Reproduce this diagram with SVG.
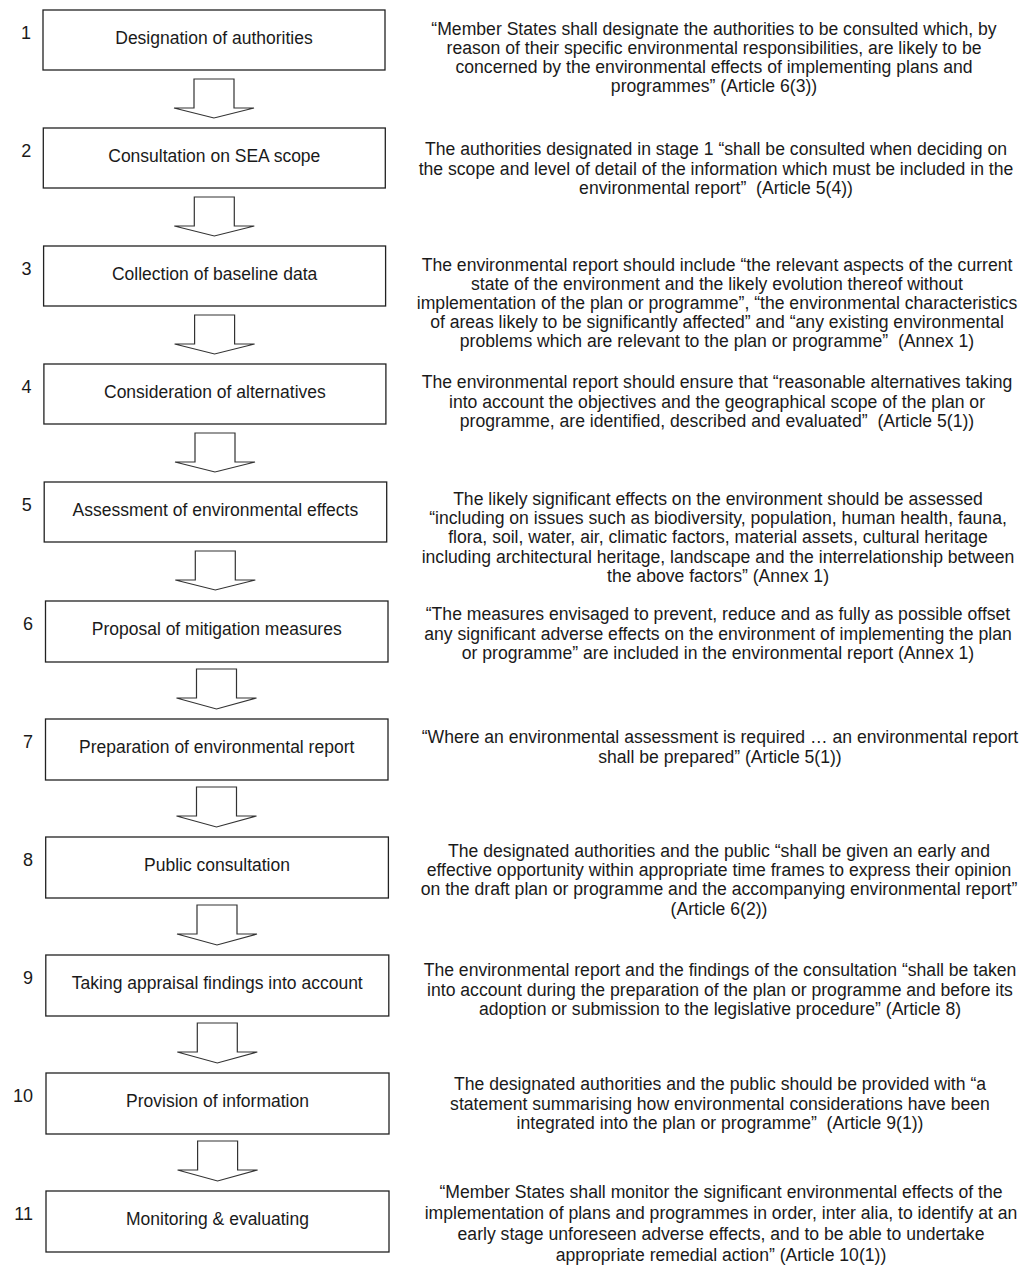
<svg xmlns="http://www.w3.org/2000/svg" width="1026" height="1276" viewBox="0 0 1026 1276">
<defs>
<style>
.box{fill:#fff;stroke:#222;stroke-width:1.3}
.arr{fill:#fff;stroke:#333;stroke-width:1.2;stroke-linejoin:miter}
.lbl{font-family:"Liberation Sans",Arial,sans-serif;font-size:17.5px;fill:#1a1a1a;text-anchor:middle}
.num{font-family:"Liberation Sans",Arial,sans-serif;font-size:18px;fill:#1a1a1a;text-anchor:end}
.desc{font-family:"Liberation Sans",Arial,sans-serif;font-size:17.6px;fill:#1a1a1a;text-anchor:middle;white-space:pre}
</style>
</defs>
<rect width="1026" height="1276" fill="#fff"/>
<g id="connectors">
<path class="arr" d="M194 79 V108 H174 L214 118 L254 108 H234 V79 Z"/>
<path class="arr" d="M194.3 197 V226 H174.3 L214.3 236 L254.3 226 H234.3 V197 Z"/>
<path class="arr" d="M194.6 315 V344 H174.6 L214.6 354 L254.6 344 H234.6 V315 Z"/>
<path class="arr" d="M195 433 V462 H175 L215 472 L255 462 H235 V433 Z"/>
<path class="arr" d="M195.3 551 V580 H175.3 L215.3 590 L255.3 580 H235.3 V551 Z"/>
<path class="arr" d="M196.5 669 V698 H176.5 L216.5 709 L256.5 698 H236.5 V669 Z"/>
<path class="arr" d="M196.5 787 V816 H176.5 L216.5 827 L256.5 816 H236.5 V787 Z"/>
<path class="arr" d="M197 905 V934 H177 L217 945 L257 934 H237 V905 Z"/>
<path class="arr" d="M197.3 1023 V1052 H177.3 L217.3 1063 L257.3 1052 H237.3 V1023 Z"/>
<path class="arr" d="M197.6 1141 V1170 H177.6 L217.6 1181 L257.6 1170 H237.6 V1141 Z"/>
</g>
<g id="n1"><rect class="box" x="43" y="10" width="342" height="60"/><text class="num" x="31" y="39">1</text><text class="lbl" x="214" y="44">Designation of authorities</text>
<text class="desc" x="714" y="35"><tspan x="714">“Member States shall designate the authorities to be consulted which, by</tspan><tspan x="714" dy="19">reason of their specific environmental responsibilities, are likely to be</tspan><tspan x="714" dy="19">concerned by the environmental effects of implementing plans and</tspan><tspan x="714" dy="19">programmes” (Article 6(3))</tspan></text></g>
<g id="n2"><rect class="box" x="43.3" y="128" width="342" height="60"/><text class="num" x="31.2" y="157">2</text><text class="lbl" x="214.3" y="162">Consultation on SEA scope</text>
<text class="desc" x="716" y="155"><tspan x="716">The authorities designated in stage 1 “shall be consulted when deciding on</tspan><tspan x="716" dy="19.5">the scope and level of detail of the information which must be included in the</tspan><tspan x="716" dy="19.5">environmental report”  (Article 5(4))</tspan></text></g>
<g id="n3"><rect class="box" x="43.6" y="246" width="342" height="60"/><text class="num" x="31.4" y="275">3</text><text class="lbl" x="214.6" y="280">Collection of baseline data</text>
<text class="desc" x="717" y="271"><tspan x="717">The environmental report should include “the relevant aspects of the current</tspan><tspan x="717" dy="19">state of the environment and the likely evolution thereof without</tspan><tspan x="717" dy="19">implementation of the plan or programme”, “the environmental characteristics</tspan><tspan x="717" dy="19">of areas likely to be significantly affected” and “any existing environmental</tspan><tspan x="717" dy="19">problems which are relevant to the plan or programme”  (Annex 1)</tspan></text></g>
<g id="n4"><rect class="box" x="43.9" y="364" width="342" height="60"/><text class="num" x="31.6" y="393">4</text><text class="lbl" x="214.9" y="398">Consideration of alternatives</text>
<text class="desc" x="717" y="388"><tspan x="717">The environmental report should ensure that “reasonable alternatives taking</tspan><tspan x="717" dy="19.5">into account the objectives and the geographical scope of the plan or</tspan><tspan x="717" dy="19.5">programme, are identified, described and evaluated”  (Article 5(1))</tspan></text></g>
<g id="n5"><rect class="box" x="44.2" y="482" width="342.5" height="60"/><text class="num" x="31.8" y="511">5</text><text class="lbl" x="215.4" y="516">Assessment of environmental effects</text>
<text class="desc" x="718" y="505"><tspan x="718">The likely significant effects on the environment should be assessed</tspan><tspan x="718" dy="19.2">“including on issues such as biodiversity, population, human health, fauna,</tspan><tspan x="718" dy="19.2">flora, soil, water, air, climatic factors, material assets, cultural heritage</tspan><tspan x="718" dy="19.2">including architectural heritage, landscape and the interrelationship between</tspan><tspan x="718" dy="19.2">the above factors” (Annex 1)</tspan></text></g>
<g id="n6"><rect class="box" x="45.5" y="601" width="342.5" height="61"/><text class="num" x="33" y="630">6</text><text class="lbl" x="216.7" y="635">Proposal of mitigation measures</text>
<text class="desc" x="718" y="620"><tspan x="718">“The measures envisaged to prevent, reduce and as fully as possible offset</tspan><tspan x="718" dy="19.5">any significant adverse effects on the environment of implementing the plan</tspan><tspan x="718" dy="19.5">or programme” are included in the environmental report (Annex 1)</tspan></text></g>
<g id="n7"><rect class="box" x="45.5" y="719" width="342.5" height="61"/><text class="num" x="33" y="748">7</text><text class="lbl" x="216.7" y="753">Preparation of environmental report</text>
<text class="desc" x="720" y="743"><tspan x="720">“Where an environmental assessment is required … an environmental report</tspan><tspan x="720" dy="19.5">shall be prepared” (Article 5(1))</tspan></text></g>
<g id="n8"><rect class="box" x="45.7" y="837" width="342.7" height="61"/><text class="num" x="33" y="866">8</text><text class="lbl" x="217" y="871">Public consultation</text>
<text class="desc" x="719" y="857"><tspan x="719">The designated authorities and the public “shall be given an early and</tspan><tspan x="719" dy="19.2">effective opportunity within appropriate time frames to express their opinion</tspan><tspan x="719" dy="19.2">on the draft plan or programme and the accompanying environmental report”</tspan><tspan x="719" dy="19.2">(Article 6(2))</tspan></text></g>
<g id="n9"><rect class="box" x="45.8" y="955" width="343" height="61"/><text class="num" x="33" y="984">9</text><text class="lbl" x="217.3" y="989">Taking appraisal findings into account</text>
<text class="desc" x="720" y="976"><tspan x="720">The environmental report and the findings of the consultation “shall be taken</tspan><tspan x="720" dy="19.5">into account during the preparation of the plan or programme and before its</tspan><tspan x="720" dy="19.5">adoption or submission to the legislative procedure” (Article 8)</tspan></text></g>
<g id="n10"><rect class="box" x="46" y="1073" width="343" height="61"/><text class="num" x="33" y="1102">10</text><text class="lbl" x="217.5" y="1107">Provision of information</text>
<text class="desc" x="720" y="1090"><tspan x="720">The designated authorities and the public should be provided with “a</tspan><tspan x="720" dy="19.5">statement summarising how environmental considerations have been</tspan><tspan x="720" dy="19.5">integrated into the plan or programme”  (Article 9(1))</tspan></text></g>
<g id="n11"><rect class="box" x="46" y="1191" width="343" height="61"/><text class="num" x="33" y="1220">11</text><text class="lbl" x="217.5" y="1225">Monitoring &amp; evaluating</text>
<text class="desc" x="721" y="1198"><tspan x="721">“Member States shall monitor the significant environmental effects of the</tspan><tspan x="721" dy="21">implementation of plans and programmes in order, inter alia, to identify at an</tspan><tspan x="721" dy="21">early stage unforeseen adverse effects, and to be able to undertake</tspan><tspan x="721" dy="21">appropriate remedial action” (Article 10(1))</tspan></text></g>
</svg>
